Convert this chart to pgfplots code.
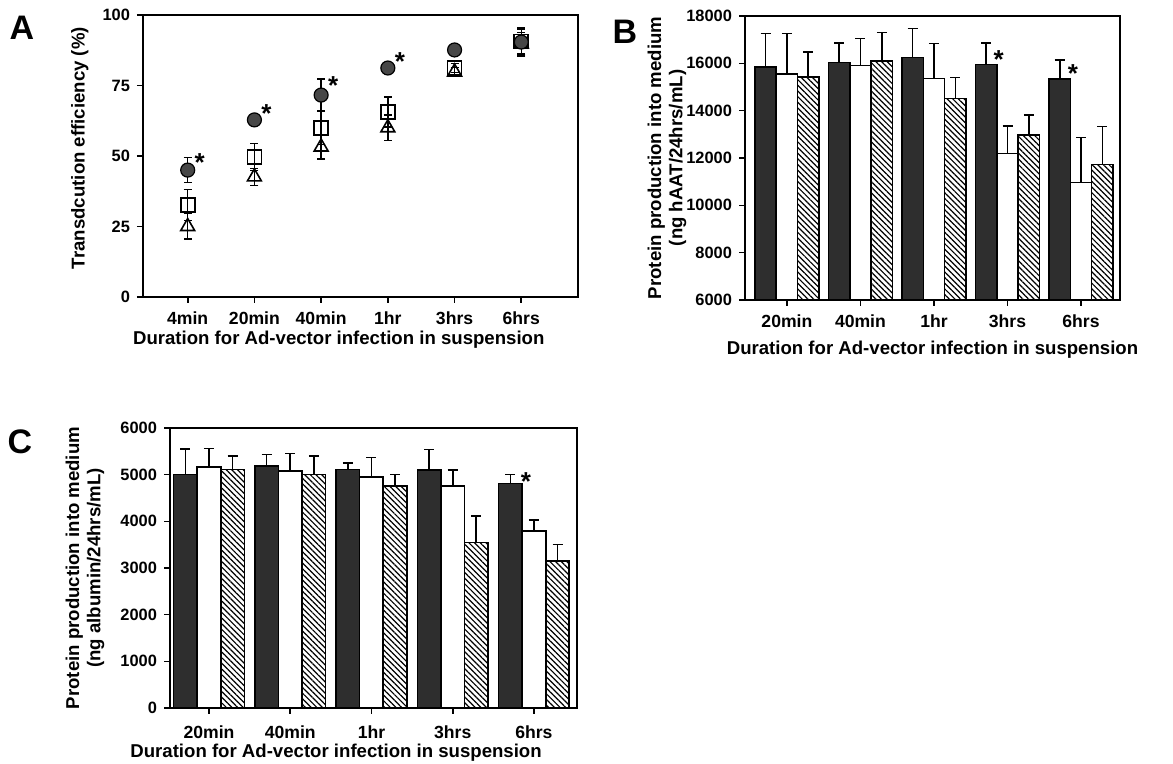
\documentclass[border=0pt]{standalone}
\usepackage{fontspec}
\setmainfont{Liberation Sans}
\usepackage{pgfplots}
\pgfplotsset{compat=1.18}
\usetikzlibrary{patterns.meta}

\definecolor{darkbar}{gray}{0.18}
\definecolor{dotfill}{gray}{0.28}

\newcommand{\lbl}{\fontsize{9.3}{10.6}\selectfont\bfseries}
\newcommand{\tkx}{\fontsize{8.8}{10}\selectfont\bfseries}
\newcommand{\tky}{\fontsize{8.2}{10}\selectfont\bfseries}

\pgfplotsset{
  panel/.style={
    scale only axis,
    anchor=south west,
    axis line style={line width=0.9pt},
    tick align=outside,
    xtick pos=bottom, ytick pos=left,
    major tick length=3pt,
    tick style={line width=0.8pt, black},
    xticklabel style={font=\tkx, yshift=-1pt},
    yticklabel style={font=\tky},
    /pgf/number format/assume math mode=true,
    /pgf/number format/1000 sep={},
    scaled y ticks=false,
  },
  errA/.style={
    error bars/.cd, y dir=both, y explicit,
    error bar style={line width=0.7pt, black},
    error mark options={rotate=90, line width=0.7pt, mark size=2pt, black},
  },
  errB/.style={
    error bars/.cd, y dir=plus, y explicit,
    error bar style={line width=0.8pt, black},
    error mark options={rotate=90, line width=0.8pt, mark size=2.5pt, black},
  },
  darkbars/.style={ybar, bar shift=0pt, bar width=0.29, fill=darkbar, draw=black, line width=0.8pt},
  whitebars/.style={ybar, bar shift=0pt, bar width=0.29, fill=white, draw=black, line width=0.8pt},
  hatchbars/.style={ybar, bar shift=0pt, bar width=0.29, draw=black, line width=0.8pt,
    pattern={Lines[angle=-45, distance=2pt, line width=0.6pt]}},
}

% panel A: transduction efficiency (%)
\pgfplotstableread{
x y e
1 45.0 4.5
2 62.8 2.0
3 71.6 5.7
4 81.2 1.5
5 87.6 1.5
6 90.4 5.0
}\Acirc
\pgfplotstableread{
x y e
1 32.6 5.5
2 49.7 4.8
3 60.0 6.0
4 65.6 5.3
5 81.2 1.5
6 90.6 4.5
}\Asq
\pgfplotstableread{
x y e
1 25.0 4.5
2 42.6 3.0
3 53.2 4.3
4 60.0 4.5
5 79.8 1.5
6 89.8 4.0
}\Atri

% panel B: hAAT (x = bar position)
\pgfplotstableread{
x y e
0.71 15857 1411
1.71 16042 829
2.71 16238 1241
3.71 15957 914
4.71 15337 803
}\Bdark
\pgfplotstableread{
x y e
1 15549 1719
2 15900 1156
3 15366 1477
4 12197 1155
5 10972 1902
}\Bwhite
\pgfplotstableread{
x y e
1.29 15434 1057
2.29 16098 1212
3.29 14521 887
4.29 12971 846
5.29 11733 1590
}\Bhatch

% panel C: albumin (x = bar position)
\pgfplotstableread{
x y e
0.71 5003 541
1.71 5187 243
2.71 5110 141
3.71 5095 442
4.71 4810 193
}\Cdark
\pgfplotstableread{
x y e
1 5166 393
2 5080 372
3 4952 414
4 4759 336
5 3791 235
}\Cwhite
\pgfplotstableread{
x y e
1.29 5110 284
2.29 5003 391
3.29 4759 244
4.29 3549 569
5.29 3149 357
}\Chatch

\begin{document}
\begin{tikzpicture}
\path[use as bounding box] (0,0) rectangle (586.5pt,382pt);

% ---------------- A ----------------
\begin{axis}[panel,
  at={(71.5pt,233.5pt)}, width=217.5pt, height=141pt,
  xmin=0.33, xmax=6.85, ymin=0, ymax=100,
  xtick={1,...,6},
  xticklabels={4min,20min,40min,1hr,3hrs,6hrs},
  ytick={0,25,50,75,100},
  xlabel={Duration for Ad-vector infection in suspension},
  ylabel={Transdcution efficiency (\%)},
  every axis x label/.style={at={(axis description cs:0.45,-0.152)}, anchor=center, font=\lbl},
  every axis y label/.style={at={(axis description cs:-0.145,0.528)}, rotate=90, anchor=center, font=\lbl},
]
\addplot[only marks, mark=square, mark size=3.5pt, mark options={fill=white, line width=0.8pt}, black, errA]
  table[x=x, y=y, y error=e] {\Asq};
\addplot[only marks, mark=triangle, mark size=4pt, mark options={fill=white, line width=0.8pt}, black, errA]
  table[x=x, y=y, y error=e] {\Atri};
\addplot[only marks, mark=*, mark size=3.5pt, mark options={fill=dotfill, draw=black, line width=0.6pt}, black, errA]
  table[x=x, y=y, y error=e] {\Acirc};
\node[font=\fontsize{13}{13}\selectfont\bfseries] at (axis cs:1.18,47.5) {*};
\node[font=\fontsize{13}{13}\selectfont\bfseries] at (axis cs:2.18,65.2) {*};
\node[font=\fontsize{13}{13}\selectfont\bfseries] at (axis cs:3.18,74.8) {*};
\node[font=\fontsize{13}{13}\selectfont\bfseries] at (axis cs:4.18,83.6) {*};
\end{axis}

% ---------------- B ----------------
\begin{axis}[panel,
  at={(372.5pt,232pt)}, width=187.5pt, height=142pt,
  xmin=0.43, xmax=5.53, ymin=6000, ymax=18000,
  xtick={1,...,5},
  xticklabels={20min,40min,1hr,3hrs,6hrs},
  ytick={6000,8000,...,18000},
  xlabel={Duration for Ad-vector infection in suspension},
  ylabel={Protein production into medium\\(ng hAAT/24hrs/mL)},
  every axis x label/.style={at={(axis description cs:0.5,-0.176)}, anchor=center, font=\lbl},
  every axis y label/.style={at={(axis description cs:-0.208,0.5)}, rotate=90, anchor=center, align=center, font=\lbl},
]
\addplot[darkbars, errB] table[x=x, y=y, y error=e] {\Bdark};
\addplot[whitebars, errB] table[x=x, y=y, y error=e] {\Bwhite};
\addplot[hatchbars, errB] table[x=x, y=y, y error=e] {\Bhatch};
\node[font=\fontsize{13}{13}\selectfont\bfseries] at (axis cs:3.88,16150) {*};
\node[font=\fontsize{13}{13}\selectfont\bfseries] at (axis cs:4.89,15560) {*};
\end{axis}

% ---------------- C ----------------
\begin{axis}[panel,
  at={(85pt,28pt)}, width=203.5pt, height=140pt,
  xmin=0.52, xmax=5.53, ymin=0, ymax=6000,
  xtick={1,...,5},
  xticklabels={20min,40min,1hr,3hrs,6hrs},
  xticklabel style={yshift=-1.5pt},
  ytick={0,1000,...,6000},
  xlabel={Duration for Ad-vector infection in suspension},
  ylabel={Protein production into medium\\(ng albumin/24hrs/mL)},
  every axis x label/.style={at={(axis description cs:0.408,-0.158)}, anchor=center, font=\lbl},
  every axis y label/.style={at={(axis description cs:-0.209,0.5)}, rotate=90, anchor=center, align=center, font=\lbl},
]
\addplot[darkbars, errB] table[x=x, y=y, y error=e] {\Cdark};
\addplot[whitebars, errB] table[x=x, y=y, y error=e] {\Cwhite};
\addplot[hatchbars, errB] table[x=x, y=y, y error=e] {\Chatch};
\node[font=\fontsize{13}{13}\selectfont\bfseries] at (axis cs:4.9,4860) {*};
\end{axis}

% panel letters
\node[font=\fontsize{17}{17}\selectfont\bfseries] at (11pt,368pt) {A};
\node[font=\fontsize{17}{17}\selectfont\bfseries] at (312.5pt,366pt) {B};
\node[font=\fontsize{17}{17}\selectfont\bfseries] at (10pt,161pt) {C};
\end{tikzpicture}
\end{document}
